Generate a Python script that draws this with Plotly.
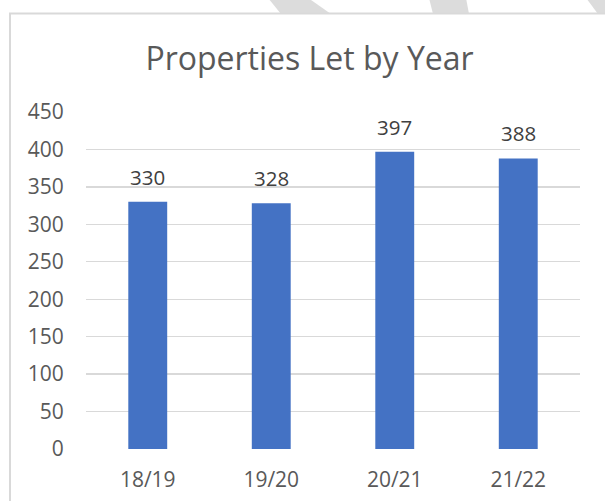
import plotly.graph_objects as go

years = ["18/19", "19/20", "20/21", "21/22"]
properties_let = [330, 328, 397, 388]
y_ticks = [0, 50, 100, 150, 200, 250, 300, 350, 400, 450]

W, H = 605, 501
# target positions measured on the reference (page pixels)
PLOT_LEFT, PLOT_RIGHT, PLOT_TOP, PLOT_BOTTOM = 86, 580, 112, 448.7
L = PLOT_LEFT
R = W - PLOT_RIGHT
T = PLOT_TOP
B = H - PLOT_BOTTOM
pw, ph = W - L - R, H - T - B


def px(x):
    return (x - L) / pw


def py(y):
    return (H - B - y) / ph


FONT = "Open Sans"
GREY = "#595959"

fig = go.Figure()
fig.add_trace(go.Bar(
    x=years, y=properties_let,
    marker=dict(color="#4472c4", line=dict(width=0)),
    width=0.315,
    hoverinfo="skip",
))

annotations = [
    dict(x=c, y=v, xref="x", yref="y", text=str(v), showarrow=False,
         yanchor="middle", yshift=25, font=dict(family=FONT, size=20.5, color="#404040"))
    for c, v in zip(years, properties_let)
]

shapes = []
# diagonal decorative stripes above the frame
stripes = [
    [(268, -2), (308, -2), (331, 14), (281, 14)],
    [(429, -2), (466, -2), (469, 14), (433, 14)],
    [(586, -2), (620, -2), (620, 14), (598, 14)],
]
for poly in stripes:
    path = "M " + " L ".join(f"{px(x):.5f},{py(y):.5f}" for x, y in poly) + " Z"
    shapes.append(dict(type="path", xref="paper", yref="paper", path=path,
                       fillcolor="#dcdcdc", line=dict(width=0), layer="below"))
# white chart area inside the frame, then frame lines (left and top)
shapes.append(dict(type="rect", xref="paper", yref="paper",
                   x0=px(10), y0=py(520), x1=px(620), y1=py(13.5),
                   fillcolor="white", line=dict(width=0), layer="below"))
shapes.append(dict(type="line", xref="paper", yref="paper",
                   x0=px(10), y0=py(520), x1=px(10), y1=py(13.5),
                   line=dict(color="#d9d9d9", width=2)))
shapes.append(dict(type="line", xref="paper", yref="paper",
                   x0=px(9), y0=py(13.5), x1=px(620), y1=py(13.5),
                   line=dict(color="#d9d9d9", width=2)))

fig.update_layout(
    width=W, height=H,
    margin=dict(l=L, r=R, t=T, b=B),
    paper_bgcolor="white", plot_bgcolor="rgba(0,0,0,0)",
    showlegend=False,
    hovermode=False,
    title=dict(text="Properties Let by Year", x=309.5 / W, xanchor="center",
               y=1 - 58.5 / H, yanchor="middle", xref="container", yref="container",
               font=dict(family=FONT, size=32, color=GREY)),
    font=dict(family=FONT, color=GREY),
    annotations=annotations,
    shapes=shapes,
    bargap=0.685,
)
fig.update_xaxes(
    type="category", showgrid=False, showline=False, zeroline=False,
    tickfont=dict(family=FONT, size=21, color=GREY),
    ticks="outside", ticklen=12, tickcolor="rgba(0,0,0,0)",
    automargin=False, fixedrange=True,
)
fig.update_yaxes(
    range=[0, 450], tickvals=y_ticks, ticktext=[str(t) for t in y_ticks],
    showgrid=True, gridcolor="#d9d9d9", gridwidth=1.3,
    zeroline=False, showline=False,
    tickfont=dict(family=FONT, size=21, color=GREY),
    ticks="outside", ticklen=17, tickcolor="rgba(0,0,0,0)",
    automargin=False, fixedrange=True,
)

fig.write_html(
    "out.html",
    config={"displayModeBar": False, "staticPlot": True},
    post_script="document.body.style.margin='0px';document.body.style.overflow='hidden';",
)
